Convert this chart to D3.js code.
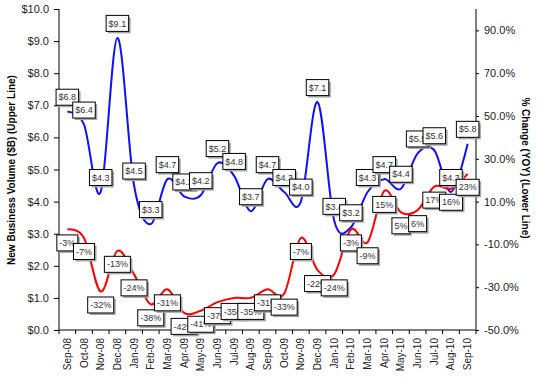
<!DOCTYPE html>
<html>
<head>
<meta charset="utf-8">
<script src="https://cdn.jsdelivr.net/npm/d3@7"></script>
<style>
  body { margin: 0; background: #fff; }
  svg { display: block; font-family: Arial, "Liberation Sans", sans-serif; }
</style>
</head>
<body>
<svg id="chart" width="540" height="380"></svg>
<script>
const months = ["Sep-08","Oct-08","Nov-08","Dec-08","Jan-09","Feb-09","Mar-09","Apr-09","May-09",
  "Jun-09","Jul-09","Aug-09","Sep-09","Oct-09","Nov-09","Dec-09","Jan-10","Feb-10","Mar-10",
  "Apr-10","May-10","Jun-10","Jul-10","Aug-10","Sep-10"]

// new business volume, $B
const volume = [6.8, 6.4, 4.3, 9.1, 4.5, 3.3, 4.7, 4.16, 4.2, 5.2, 4.8, 3.7, 4.7, 4.3, 4.0,
  7.1, 3.4, 3.2, 4.3, 4.7, 4.4, 5.5, 5.6, 4.3, 5.8]

// % change year over year
const yoy = [-3, -7, -32, -13, -24, -38, -31, -42, -41, -37, -35, -35, -31, -33, -7,
  -22, -24, -3, -9, 15, 5, 6, 17, 16, 23]

const leftTicks = [0,1,2,3,4,5,6,7,8,9,10]
const rightTicks = [-50,-30,-10,10,30,50,70,90]

const svg = d3.select("#chart")
const plotL = 59, plotR = 476, plotT = 9, plotB = 330

const x = d3.scaleBand().domain(months).range([plotL, plotR])
const cx = d => x(d) + x.bandwidth() / 2
const yL = d3.scaleLinear().domain([0, 10]).range([plotB, plotT])
const yR = d3.scaleLinear().domain([-50, 100]).range([plotB, plotT])

// axes
const gl = svg.append("g").attr("transform", `translate(${plotL},0)`)
  .call(d3.axisLeft(yL).tickValues(leftTicks).tickSize(5).tickPadding(5)
    .tickFormat(d => "$" + d.toFixed(1)))
const gr = svg.append("g").attr("transform", `translate(${plotR},0)`)
  .call(d3.axisRight(yR).tickValues(rightTicks).tickSize(3).tickPadding(5)
    .tickFormat(d => d.toFixed(1) + "%"))
;[gl, gr].forEach(g => {
  g.select(".domain").attr("d", `M0,${plotT}V${plotB}`)
  g.selectAll("text").attr("font-size", 11).attr("fill", "#222")
  g.attr("font-family", null)
})

const gx = svg.append("g")
gx.append("line").attr("x1", plotL).attr("x2", plotR).attr("y1", plotB).attr("y2", plotB)
  .attr("stroke", "#000")
gx.selectAll(".tk").data(months.concat(["end"])).join("line")
  .attr("x1", d => d === "end" ? plotR : x(d)).attr("x2", d => d === "end" ? plotR : x(d))
  .attr("y1", plotB).attr("y2", plotB + 4).attr("stroke", "#000")
gx.selectAll("text").data(months).join("text")
  .attr("transform", d => `translate(${cx(d)},338) rotate(-90)`)
  .attr("dy", "0.35em").attr("text-anchor", "end")
  .attr("font-size", 10).attr("fill", "#222")
  .text(d => d)

// axis titles
svg.append("text").attr("transform", "translate(14.5,170) rotate(-90)")
  .attr("text-anchor", "middle").attr("font-size", 10).attr("font-weight", "bold")
  .text("New Business Volume ($B) (Upper Line)")
svg.append("text").attr("transform", "translate(522,168) rotate(90)")
  .attr("text-anchor", "middle").attr("font-size", 10).attr("font-weight", "bold")
  .text("% Change (YOY) (Lower Line)")

// lines
const curve = d3.curveCardinal.tension(0)
const lineL = d3.line().x((d, i) => cx(months[i])).y(d => yL(d)).curve(curve)
const lineR = d3.line().x((d, i) => cx(months[i])).y(d => yR(d)).curve(curve)
svg.append("path").attr("d", lineL(volume)).attr("fill", "none")
  .attr("stroke", "#1010ff").attr("stroke-width", 2)
svg.append("path").attr("d", lineR(yoy)).attr("fill", "none")
  .attr("stroke", "#ff0000").attr("stroke-width", 2)

// data labels
function labels(vals, yScale, fmt, dy) {
  const g = svg.append("g")
  vals.forEach((v, i) => {
    const lg = g.append("g")
      .attr("transform", `translate(${cx(months[i])},${yScale(v) + dy})`)
    const t = lg.append("text").attr("font-size", 9).attr("fill", "#333")
      .attr("text-anchor", "middle").attr("dy", "0.35em").text(fmt(v))
    const w = t.node().getComputedTextLength() + 5, h = 16
    lg.insert("rect", "text").attr("x", -w / 2 + 2).attr("y", -h / 2 + 2)
      .attr("width", w).attr("height", h).attr("fill", "#a6a6a6")
    lg.insert("rect", "text").attr("x", -w / 2).attr("y", -h / 2)
      .attr("width", w).attr("height", h).attr("fill", "#fff")
      .attr("stroke", "#000").attr("stroke-width", 1)
  })
}
labels(volume, yL, v => "$" + v.toFixed(1), -14.5)
labels(yoy, yR, v => v + "%", 13.5)
</script>
</body>
</html>
